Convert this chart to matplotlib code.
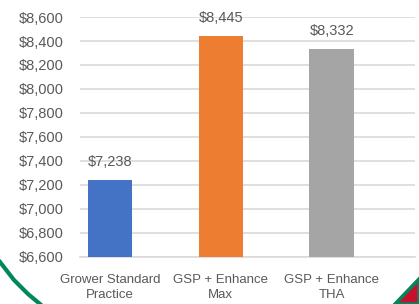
import matplotlib.pyplot as plt
from matplotlib.patches import Polygon
from matplotlib.lines import Line2D
from matplotlib.ticker import FuncFormatter

categories = ['Grower Standard\nPractice', 'GSP + Enhance\nMax', 'GSP + Enhance\nTHA']
values = [7238, 8445, 8332]
colors = ['#4472C4', '#ED7D31', '#A5A5A5']

plt.rcParams['font.family'] = ['Liberation Sans', 'DejaVu Sans']
txt = '#595959'

fig = plt.figure(figsize=(4.19, 3.04), dpi=100)
ax = fig.add_axes([0.191, 0.155, 0.799, 0.789])

x = range(len(values))
ax.bar(x, values, width=0.4, color=colors, zorder=3)
for i, v in enumerate(values):
    ax.annotate('${:,}'.format(v), (i, v), xytext=(0, 8), textcoords='offset points',
                ha='center', va='bottom', fontsize=10.5, color=txt, zorder=4)

ax.set_ylim(6600, 8600)
ax.set_xlim(-0.27, 2.75)
ax.set_yticks(range(6600, 8601, 200))
ax.yaxis.set_major_formatter(FuncFormatter(lambda v, p: '${:,.0f}'.format(v)))
ax.set_xticks(list(x))
ax.set_xticklabels(categories, linespacing=1.35, fontsize=9.5)
ax.grid(axis='y', color='#D9D9D9', linewidth=1.2, zorder=0)
for s in ax.spines.values():
    s.set_visible(False)
ax.spines['bottom'].set_visible(True)
ax.spines['bottom'].set_color('#D9D9D9')
ax.spines['bottom'].set_linewidth(1.2)
ax.tick_params(axis='both', length=0, colors=txt)
ax.tick_params(axis='y', pad=12, labelsize=10.5)
ax.tick_params(axis='x', pad=12)

# decorative slide edges
W, H = 419, 304
fig.add_artist(Line2D([0 / W, 14 / W, 28 / W, 40 / W], [1 - 262 / H, 1 - 280 / H, 1 - 294 / H, 1 - 304 / H],
                      transform=fig.transFigure, color='#00875A', linewidth=3))
fig.add_artist(Polygon([(395 / W, 0), (419 / W, 1 - 279 / H), (1, 0)], closed=True,
                       transform=fig.transFigure, facecolor='#C8102E', edgecolor='#00875A', linewidth=2.5))

fig.savefig('out.png', dpi=100)
